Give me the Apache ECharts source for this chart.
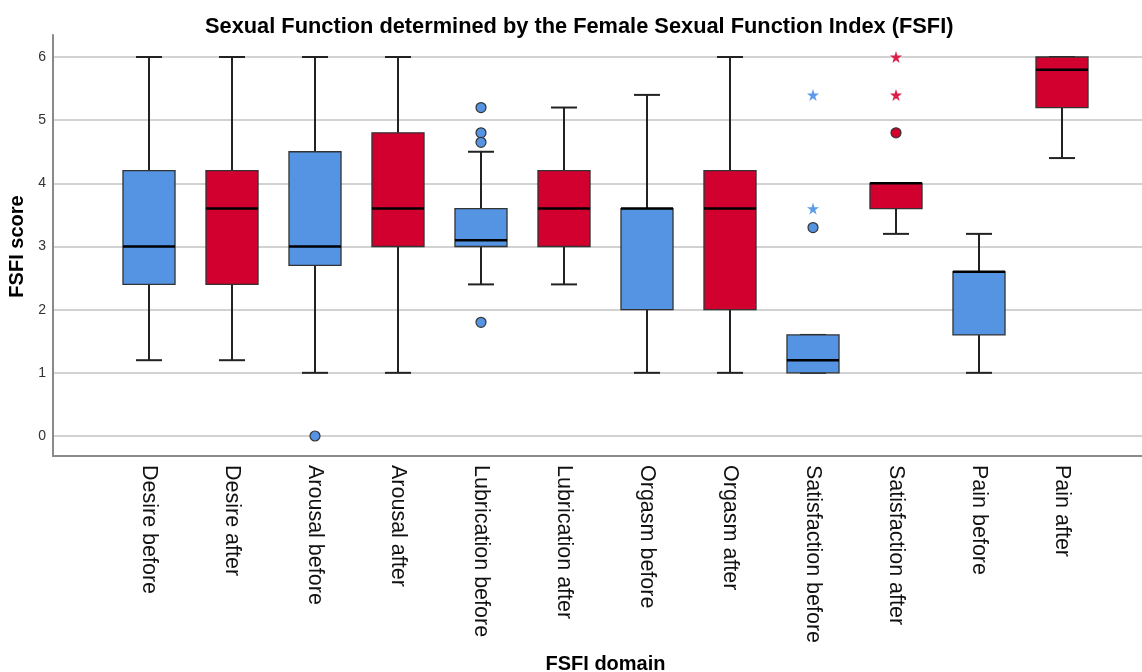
<!DOCTYPE html>
<html>
<head>
<meta charset="utf-8">
<script src="https://cdn.jsdelivr.net/npm/echarts@6/dist/echarts.min.js"></script>
<style>html,body{margin:0;padding:0;background:#fff;}#chart{width:1142px;height:672px;}</style>
</head>
<body>
<div id="chart"></div>
<script>
const categories = ['Desire before','Desire after','Arousal before','Arousal after','Lubrication before','Lubrication after','Orgasm before','Orgasm after','Satisfaction before','Satisfaction after','Pain before','Pain after'];
const lowWhisker  = [1.2, 1.2, 1.0, 1.0, 2.4, 2.4, 1.0, 1.0, 1.0, 3.2, 1.0, 4.4];
const q1          = [2.4, 2.4, 2.7, 3.0, 3.0, 3.0, 2.0, 2.0, 1.0, 3.6, 1.6, 5.2];
const median      = [3.0, 3.6, 3.0, 3.6, 3.1, 3.6, 3.6, 3.6, 1.2, 4.0, 2.6, 5.8];
const q3          = [4.2, 4.2, 4.5, 4.8, 3.6, 4.2, 3.6, 4.2, 1.6, 4.0, 2.6, 6.0];
const highWhisker = [6.0, 6.0, 6.0, 6.0, 4.5, 5.2, 5.4, 6.0, 1.6, 4.0, 3.2, 6.0];
const circleOutliers = [[2, 0], [4, 5.2], [4, 4.8], [4, 4.65], [4, 1.8], [8, 3.3], [9, 4.8]];
const starOutliers = [[8, 3.6], [8, 5.4], [9, 5.4], [9, 6.0]];
const yTicks = [0, 1, 2, 3, 4, 5, 6];

const BLUE = '#5594E3';
const RED = '#D2002E';
const STAR_BLUE = '#5B9BEA';
const STAR_RED = '#DC1E48';
const colorOf = i => (i % 2 === 0 ? BLUE : RED);

const boxData = categories.map((c, i) => [i, lowWhisker[i], q1[i], median[i], q3[i], highWhisker[i]]);

function renderBox(params, api) {
  const i = api.value(0);
  const band = api.size([1, 0])[0];
  const bw = band * 0.627;
  const cw = bw * 0.5;
  const x = api.coord([i, 0])[0];
  const Y = v => api.coord([i, v])[1];
  const yl = Y(api.value(1)), yq1 = Y(api.value(2)), ym = Y(api.value(3)), yq3 = Y(api.value(4)), yh = Y(api.value(5));
  const lineStyle = { stroke: '#222', lineWidth: 2 };
  return {
    type: 'group',
    children: [
      { type: 'line', shape: { x1: x, y1: yl, x2: x, y2: yq1 }, style: lineStyle },
      { type: 'line', shape: { x1: x, y1: yq3, x2: x, y2: yh }, style: lineStyle },
      { type: 'line', shape: { x1: x - cw / 2, y1: yl, x2: x + cw / 2, y2: yl }, style: lineStyle },
      { type: 'line', shape: { x1: x - cw / 2, y1: yh, x2: x + cw / 2, y2: yh }, style: lineStyle },
      { type: 'rect', shape: { x: x - bw / 2, y: yq3, width: bw, height: yq1 - yq3 }, style: { fill: colorOf(i), stroke: '#333', lineWidth: 1.3 } },
      { type: 'line', shape: { x1: x - bw / 2, y1: ym, x2: x + bw / 2, y2: ym }, style: { stroke: '#000', lineWidth: 2.5 } }
    ]
  };
}

const chart = echarts.init(document.getElementById('chart'), null, { renderer: 'canvas' });
chart.setOption({
  animation: false,
  backgroundColor: '#fff',
  title: {
    text: 'Sexual Function determined by the Female Sexual Function Index (FSFI)',
    left: 200, top: 11,
    textStyle: { fontFamily: 'Liberation Sans', fontWeight: 'bold', fontSize: 21.8, color: '#000' }
  },
  grid: [
    { left: 53, right: 0, top: 35, bottom: 216, outerBoundsMode: 'none', containLabel: false },
    { left: 53, right: 0, top: 57, bottom: 236, outerBoundsMode: 'none', containLabel: false },
    { left: 107.5, right: 38.5, top: 57, bottom: 236, outerBoundsMode: 'none', containLabel: false }
  ],
  xAxis: [
    { gridIndex: 0, type: 'value', min: 0, max: 1, axisLine: { show: true, lineStyle: { color: '#8a8a8a', width: 2 } }, axisTick: { show: false }, axisLabel: { show: false }, splitLine: { show: false } },
    { gridIndex: 1, type: 'value', min: 0, max: 1, show: false },
    {
      gridIndex: 2, type: 'category', data: categories,
      axisLine: { show: false }, axisTick: { show: false }, splitLine: { show: false },
      axisLabel: { rotate: -90, margin: 29, fontSize: 21.5, fontFamily: 'Liberation Sans', color: '#111', interval: 0 },
      name: 'FSFI domain', nameLocation: 'middle', nameGap: 218,
      nameTextStyle: { fontFamily: 'Liberation Sans', fontWeight: 'bold', fontSize: 20, color: '#000' }
    }
  ],
  yAxis: [
    { gridIndex: 0, type: 'value', min: 0, max: 1, axisLine: { show: true, lineStyle: { color: '#8a8a8a', width: 2 } }, axisTick: { show: false }, axisLabel: { show: false }, splitLine: { show: false } },
    {
      gridIndex: 1, type: 'value', min: yTicks[0], max: yTicks[yTicks.length - 1], interval: 1,
      axisLine: { show: false }, axisTick: { show: false },
      axisLabel: { margin: 7, fontSize: 14, fontFamily: 'Liberation Sans', color: '#333' },
      splitLine: { show: true, lineStyle: { color: '#d2d2d2', width: 2 } },
      name: 'FSFI score', nameLocation: 'middle', nameGap: 25,
      nameTextStyle: { fontFamily: 'Liberation Sans', fontWeight: 'bold', fontSize: 20, color: '#000' }
    },
    { gridIndex: 2, type: 'value', min: 0, max: 6, show: false }
  ],
  series: [
    {
      type: 'custom', xAxisIndex: 2, yAxisIndex: 2, data: boxData,
      renderItem: renderBox, encode: { x: 0, y: [1, 2, 3, 4, 5] }, z: 3
    },
    {
      type: 'scatter', xAxisIndex: 2, yAxisIndex: 2, data: circleOutliers,
      symbol: 'circle', symbolSize: 10, z: 4,
      itemStyle: { color: p => colorOf(p.data[0]), borderColor: '#333', borderWidth: 1.2, opacity: 1 }
    },
    {
      type: 'scatter', xAxisIndex: 2, yAxisIndex: 2, data: starOutliers,
      symbol: 'path://M50,0 L61,35 L98,35 L68,57 L79,91 L50,70 L21,91 L32,57 L2,35 L39,35 Z',
      symbolSize: 12, z: 4,
      itemStyle: { color: p => (p.data[0] % 2 === 0 ? STAR_BLUE : STAR_RED), opacity: 1 }
    }
  ]
});
</script>
</body>
</html>
